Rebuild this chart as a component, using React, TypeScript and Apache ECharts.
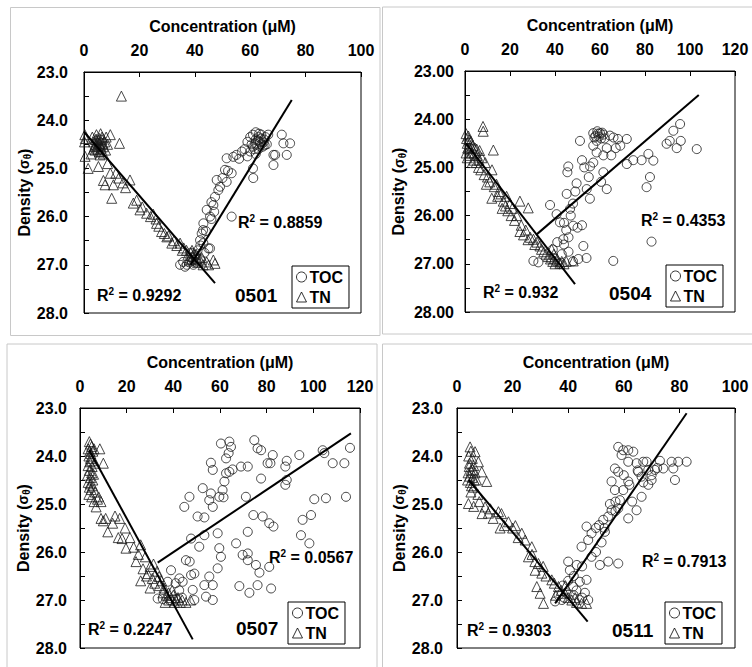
import React, { useEffect, useRef } from 'react';
import * as echarts from 'echarts';

// ---------- DATA (concentration µM, density σθ) ----------
const TN_0501 = [
  [0.3, 24.3], [0.5, 24.38], [0.2, 24.45], [0.4, 24.75], [1.5, 25.0],
  [3, 24.35], [3.5, 24.45], [4, 24.5], [4.5, 24.4], [5, 24.55], [5, 24.6], [5.5, 24.48], [6, 24.52], [6, 24.65],
  [6.5, 24.4], [7, 24.55], [7, 24.7], [4, 24.62], [5.8, 24.72], [6.5, 24.35], [3.5, 24.6], [7.5, 24.45], [8, 24.35],
  [8.5, 24.5], [6, 24.28], [4.5, 24.3], [7.8, 24.62], [5.2, 24.42], [4.8, 24.52], [6.2, 24.58], [5.5, 24.66],
  [4.2, 24.4], [6.8, 24.48], [5.6, 24.38], [3.8, 24.55],
  [13.5, 23.5], [12.8, 24.48], [5.2, 24.96], [2.5, 24.7], [9.5, 24.3],
  [7.6, 25.34], [7, 25.25], [10.6, 25.34], [10, 25.62], [9.5, 25.1], [11.5, 25.1], [16.6, 25.24], [15, 25.4],
  [14, 25.3], [12.5, 25.2], [8.5, 24.9],
  [17.8, 25.72], [19, 25.66], [20.2, 25.86], [21, 25.8], [22.6, 25.93], [24, 26.0], [25, 25.95], [26.2, 26.14],
  [26, 26.05], [27, 26.2], [28, 26.31], [29, 26.35], [29.9, 26.42], [30.5, 26.4], [31.7, 26.55], [32.5, 26.5],
  [33.5, 26.6], [34.7, 26.55], [35.5, 26.7], [36, 26.65], [37, 26.7], [37.5, 26.8], [38.5, 26.75], [39.4, 26.83],
  [40, 26.9], [40.5, 26.78], [41.9, 26.9], [42.5, 26.85], [43, 27.0], [44.3, 26.94], [45, 27.0], [46.7, 26.9],
  [47.3, 26.97], [41, 26.95], [38, 26.9], [39, 26.7], [38.8, 26.88], [39.8, 26.76], [40.8, 26.86],
];
const TOC_0501 = [
  [59, 24.45], [60, 24.35], [60.5, 24.5], [61, 24.3], [61.5, 24.6], [62, 24.25], [62, 24.4], [62.5, 24.5], [63, 24.35],
  [63.5, 24.45], [64, 24.3], [64.5, 24.55], [65, 24.4], [65.5, 24.35], [66, 24.5], [66.5, 24.3], [61, 24.55],
  [63, 24.6], [64, 24.5], [60, 24.65], [58, 24.6], [59, 24.75], [62, 24.7], [57, 24.65],
  [62.8, 24.42], [63.8, 24.38], [64.8, 24.46], [61.8, 24.48], [65.2, 24.52], [63.2, 24.28],
  [71.4, 24.3], [72, 24.48], [74.4, 24.48], [68.4, 24.72], [73.2, 24.72], [68.4, 24.93], [61.1, 25.2], [61, 25.0], [69, 24.72],
  [51.5, 24.79], [53.9, 24.76], [55, 24.72], [50.9, 25.03], [53.3, 25.1], [47.9, 25.24], [49.1, 25.38], [51.5, 25.28],
  [48.5, 25.45], [47.3, 25.59], [46.7, 25.76], [44.3, 25.86], [45.5, 26.0], [46, 26.05], [43.1, 26.14], [53.3, 26.0],
  [41.9, 26.49], [42.5, 26.35], [44, 26.3], [43.1, 26.55], [44.9, 26.66], [45.5, 26.66], [43, 26.28], [46, 25.7],
  [47, 25.9], [50, 25.2], [52, 25.05], [56, 24.8],
  [35.8, 26.94], [37.1, 27.0], [34.7, 27.0], [36.5, 27.04], [38, 26.95], [39, 26.85], [40, 26.8], [41, 26.7],
  [42, 26.6], [40.5, 26.95], [39.5, 27.0], [38.5, 26.75], [42, 26.88], [43.5, 26.75],
];
const TN_FIT_0501 = [[0, 24.24], [47.3, 27.38]];
const TOC_FIT_0501 = [[38.5, 27.0], [75, 23.58]];

const TN_0504 = [
  [0.5, 24.3], [0.7, 24.4], [1, 24.5], [1.5, 24.35], [2, 24.6], [0.5, 24.7], [1, 24.8], [2.5, 24.45], [3, 24.7],
  [3.5, 24.55], [4, 24.85], [4.5, 24.6], [5, 24.9], [5.5, 24.75], [6, 25.0], [6.5, 24.65], [7, 25.05], [7.5, 24.8],
  [1.2, 24.6], [2.2, 24.75], [3.2, 24.9], [1.8, 24.42], [2.8, 24.58], [4.2, 24.7], [5.2, 24.62], [6.2, 24.85],
  [8, 24.15], [8.1, 24.25], [8.5, 25.15], [9, 24.9], [10, 25.2], [12.6, 24.64], [11, 25.3], [11.9, 25.64], [12, 25.05],
  [13, 25.4], [14, 25.35], [15, 25.5], [16, 25.55], [17, 25.7], [18, 25.8], [18.5, 25.6], [19, 25.9], [20, 25.75],
  [20.5, 26.0], [21, 25.85], [22, 26.1], [23, 26.0], [24.4, 25.7], [24.4, 26.33], [25, 26.2], [26, 26.4], [27, 26.3],
  [28.1, 25.84], [28, 26.5], [29, 26.45], [30.4, 26.49], [31, 26.6], [32, 26.55], [33.3, 26.63], [34, 26.7],
  [35, 26.75], [36, 26.8], [37, 26.85], [38, 26.9], [39, 26.95], [40, 27.0], [41, 26.9], [42.2, 26.99], [43, 26.95],
  [44, 27.0], [45, 26.95], [48.1, 26.94], [39.5, 26.8], [38.5, 26.7], [9.5, 25.35], [14.5, 25.6], [16.5, 25.85],
];
const TOC_0504 = [
  [30.4, 26.94], [32.6, 26.97], [37.8, 25.78], [45.2, 25.55], [45.9, 24.98], [45.5, 25.1], [51.1, 24.45], [57, 24.29],
  [58, 24.35], [59, 24.3], [60, 24.29], [61.5, 24.32], [62, 24.4], [58.5, 24.45], [64.4, 24.34], [66, 24.38],
  [57.5, 24.38], [59.5, 24.36], [60.5, 24.4], [61, 24.28], [58.8, 24.25],
  [68, 24.41], [71.9, 24.41], [74.8, 24.85], [78.5, 24.85], [81.5, 24.72], [83.7, 24.86], [82.2, 25.2], [80.7, 25.41],
  [82.9, 26.54], [89.6, 24.51], [91, 24.45], [92.6, 24.24], [95.6, 24.1], [95.9, 24.45], [94.1, 24.6], [103, 24.62],
  [65.9, 26.94], [50.4, 26.9], [54, 26.88], [52.6, 26.63], [48.1, 26.21], [50, 26.25], [42.2, 26.14], [40.7, 25.97],
  [43.7, 26.49], [46.7, 25.86], [48, 25.75], [49.6, 25.33], [49, 25.5], [54.1, 25.45], [55.5, 25.65], [55.6, 24.98],
  [57, 24.9], [58.5, 24.69], [61.5, 24.75], [63, 24.6], [67, 24.6], [63, 25.45], [60.5, 25.3], [71.9, 24.93],
  [61.5, 25.1], [55, 25.2], [53, 25.0], [52, 24.85], [57, 24.55], [65, 24.75], [69, 24.55], [47, 26.0], [45, 26.3],
  [44, 26.6], [46, 26.75], [43, 26.8], [48, 26.95], [40, 26.95], [42, 27.0], [39, 26.7], [41, 26.55], [38, 26.9],
  [52, 26.2], [46, 26.45], [44, 26.15],
];
const TN_FIT_0504 = [[0.4, 24.5], [48.9, 27.42]];
const TOC_FIT_0504 = [[31.6, 26.4], [103.9, 23.5]];

const TN_0507 = [
  [4, 23.7], [4.5, 23.75], [5, 23.8], [3.5, 23.85], [4.2, 23.9], [5.5, 23.9], [6, 23.85], [3.8, 24.0], [4.5, 24.05],
  [5, 24.1], [6.5, 24.15], [3.5, 24.2], [4, 24.3], [5, 24.35], [4.5, 24.45], [3.5, 24.55], [5.5, 24.5], [4, 24.65],
  [4.8, 24.7], [3.8, 24.8], [5, 24.85], [6, 24.95], [7.5, 24.9], [8, 24.85], [9, 24.95], [8.5, 23.85], [10, 24.15],
  [4.6, 23.95], [5.2, 24.22], [4.2, 24.12], [5.8, 24.38], [4.4, 24.58], [5.4, 24.62], [3.2, 24.4],
  [6.9, 25.06], [6.5, 24.75], [9, 25.3], [10, 25.35], [11, 25.3], [14, 25.4], [11.9, 25.58], [16.4, 25.7], [18, 25.72],
  [19.3, 25.5], [21.4, 25.7], [17, 25.3], [15, 25.25], [19.7, 25.92], [23, 25.9], [25, 26.05], [26, 25.85], [28, 26.1],
  [24, 26.2], [27, 26.35], [29, 26.45], [30, 26.3], [26, 26.6], [28.5, 26.5], [31, 26.55], [30, 26.75], [32, 26.65],
  [33.9, 26.51], [34, 26.7], [35, 26.6], [35.5, 26.85], [36, 26.75], [37, 26.9], [38, 26.85], [38, 27.0], [39, 26.95],
  [40, 26.9], [40.5, 27.05], [41, 27.0], [42, 26.95], [43, 27.05], [43.8, 27.0], [45.4, 27.05], [47.4, 27.0],
  [36.5, 27.05], [39.5, 26.8], [33, 26.4], [31.5, 26.25],
];
const TOC_0507 = [
  [60.4, 23.74], [64, 23.7], [64.7, 23.81], [63.7, 23.94], [74.7, 23.67], [76.1, 23.84], [77.6, 23.88], [82.6, 23.98],
  [80.4, 24.15], [81.6, 24.15], [88.6, 24.1], [88, 24.22], [94, 23.98], [104, 23.88], [104.7, 23.94], [108.3, 24.15],
  [113.3, 24.15], [115.7, 23.83], [56.1, 24.14], [56.9, 24.29], [62.6, 24.05], [62.6, 24.36], [64, 24.33],
  [65.4, 24.28], [69, 24.22], [71.9, 24.22], [77.6, 24.47], [88, 24.6], [88.6, 24.5], [61.9, 24.53], [61.1, 24.71],
  [52.6, 24.67], [56.1, 24.78], [55.4, 24.92], [59.7, 24.85], [61.5, 24.86], [56.9, 25.06], [46.9, 24.85],
  [44.7, 25.06], [50.4, 25.26], [53.3, 25.28], [71.1, 24.85], [74.3, 25.23], [78.3, 25.26], [81.1, 25.4],
  [82.9, 25.47], [100.4, 24.9], [105.4, 24.88], [114, 24.85], [99, 25.23], [95.4, 25.33], [94.7, 25.65],
  [98.3, 25.82], [71.9, 25.58], [66.9, 25.82], [59, 25.61], [53.3, 25.65], [47.6, 25.72], [51.1, 25.89],
  [59.7, 25.92], [60.4, 26.1], [59, 26.34], [45.4, 26.17], [47, 26.2], [69.7, 26.06], [71.9, 26.03], [71.9, 26.17],
  [75.4, 26.27], [76.9, 26.43], [81.1, 26.31], [39, 26.38], [42.6, 26.55], [44, 26.62], [47.6, 26.48], [49, 26.45],
  [55.4, 26.51], [53.3, 26.69], [56.9, 26.69], [48.3, 26.79], [54, 26.93], [56.9, 27.0], [68.3, 26.71],
  [72.6, 26.85], [76.1, 26.69], [81.9, 26.76], [33.3, 26.97], [35.5, 26.98], [38.3, 27.0], [41, 26.98],
  [43.7, 26.95], [37.6, 26.62], [41, 26.65], [42.5, 26.8], [49, 27.0],
];
const TN_FIT_0507 = [[4, 23.875], [48.3, 27.82]];
const TOC_FIT_0507 = [[33.3, 26.22], [116.1, 23.53]];

const TN_0511 = [
  [4.7, 23.81], [5, 23.9], [4.2, 24.0], [6.5, 23.91], [5.5, 24.05], [4.5, 24.15], [6, 24.2], [7.7, 24.12], [5, 24.3],
  [4, 24.35], [6.5, 24.35], [5.5, 24.45], [4.8, 24.55], [7, 24.5], [8.9, 24.33], [6, 24.65], [10.7, 24.53], [5, 24.75],
  [4.4, 24.22], [5.6, 24.28], [4.6, 24.42], [6.2, 24.5], [5.2, 24.62], [3.8, 24.5],
  [7.5, 24.8], [4.1, 24.99], [6, 25.05], [8, 24.95], [10.1, 25.06], [11.3, 25.19], [9, 25.2], [12, 25.1],
  [14.9, 25.16], [13, 25.3], [16, 25.2], [18.5, 25.37], [17, 25.45], [15.5, 25.5], [20, 25.5], [21, 25.45],
  [23.3, 25.61], [22, 25.7], [24.5, 25.75], [26.9, 25.89], [25.7, 26.1], [27, 26.05], [28, 26.2], [29.3, 26.24],
  [28.1, 26.38], [30.5, 26.44], [31, 26.3], [32, 26.5], [28.7, 26.72], [29.9, 26.86], [31.1, 27.07], [34.1, 26.58],
  [35, 26.65], [36.5, 26.72], [37.5, 26.8], [38.8, 26.86], [40, 26.95], [41.3, 27.0], [42.5, 26.95], [44.8, 27.07],
  [46.6, 27.07], [43, 27.05], [39, 26.7], [35.5, 26.9],
];
const TOC_0511 = [
  [35.3, 27.03], [37.7, 27.0], [39.4, 26.86], [41.8, 26.72], [44.2, 26.62], [46.6, 26.58], [47.2, 27.0], [40.6, 26.38],
  [43.1, 26.27], [48.4, 26.1], [51.4, 26.27], [54.4, 26.2], [58, 26.24], [44.8, 25.89], [47.2, 25.75], [48.4, 25.61],
  [46.6, 25.47], [51.1, 25.44], [53.2, 25.58], [52.6, 25.33], [54.4, 25.26], [55.6, 25.13], [58, 25.09],
  [58.6, 24.92], [56.8, 24.71], [59.8, 24.71], [61.6, 25.3], [64.6, 25.13], [66.4, 24.85], [55.6, 24.53], [58, 24.33],
  [61.6, 24.53], [56.8, 24.26], [58, 23.81], [59.8, 23.88], [61.6, 23.88], [63.4, 23.91], [59.2, 23.98],
  [61.6, 24.12], [64.6, 24.15], [67, 24.12], [68.2, 24.12], [65.2, 24.33], [66.4, 24.43], [68.8, 24.29],
  [71.2, 24.29], [70, 24.5], [68.8, 24.6], [74.2, 24.26], [77.2, 24.12], [79.6, 24.12], [82.6, 24.12], [77.8, 24.26],
  [78.4, 24.5], [38, 26.7], [40, 26.6], [42, 26.9], [43, 26.8], [45, 26.95], [44, 27.0], [46, 26.85], [42, 26.5],
  [40, 26.2], [38.5, 26.95], [36.5, 26.9], [50, 26.0], [52, 25.8], [53, 25.5], [55, 25.0], [57, 24.95], [60, 24.4],
  [62, 24.6], [63, 24.95], [65, 24.3], [67, 24.55], [70, 24.4], [72, 24.25], [73, 24.1], [57, 25.15], [50, 25.5],
  [45, 26.3],
];
const TN_FIT_0511 = [[4.2, 24.5], [47, 27.45]];
const TOC_FIT_0511 = [[35.3, 27.07], [82.6, 23.11]];

const STATION_LABELS = ['0501', '0504', '0507', '0511'];
const R2_TN = ['0.9292', '0.932', '0.2247', '0.9303'];
const R2_TOC = ['0.8859', '0.4353', '0.0567', '0.7913'];
const X_MAX = [100, 120, 120, 100];
const Y_DECIMALS = [1, 2, 1, 1];

// ---------- LAYOUT ----------
const FONT = 'Arial, "Liberation Sans", Helvetica, sans-serif';
const LAYOUT = [
  { grid: { left: 84, top: 72, width: 277, height: 241 }, yNameGap: 47, yLabelMargin: 16,
    legend: [292, 266], tnR2: [97, 295], tocR2: [238, 222], station: [235, 295], frame: [10.5, 7.5, 369.5, 328] },
  { grid: { left: 465, top: 71, width: 270, height: 241 }, yNameGap: 58, yLabelMargin: 11,
    legend: [666, 265], tnR2: [483, 292], tocR2: [641, 220], station: [609, 293], frame: [382.5, 7, 380, 327] },
  { grid: { left: 80, top: 408, width: 280, height: 240 }, yNameGap: 45, yLabelMargin: 13,
    legend: [288, 602], tnR2: [88, 629], tocR2: [269, 557], station: [236, 628], frame: [7, 344, 370, 340] },
  { grid: { left: 457, top: 408, width: 278, height: 240 }, yNameGap: 49, yLabelMargin: 14,
    legend: [665, 602], tnR2: [467, 630], tocR2: [642, 561], station: [612, 630], frame: [382.5, 344, 380, 340] },
];

const PANELS = [
  { tn: TN_0501, toc: TOC_0501, tnFit: TN_FIT_0501, tocFit: TOC_FIT_0501 },
  { tn: TN_0504, toc: TOC_0504, tnFit: TN_FIT_0504, tocFit: TOC_FIT_0504 },
  { tn: TN_0507, toc: TOC_0507, tnFit: TN_FIT_0507, tocFit: TOC_FIT_0507 },
  { tn: TN_0511, toc: TOC_0511, tnFit: TN_FIT_0511, tocFit: TOC_FIT_0511 },
];

const boldText = { fontFamily: FONT, fontWeight: 'bold' as const, color: '#000' };

function buildOption() {
  const grids: any[] = [];
  const xAxes: any[] = [];
  const yAxes: any[] = [];
  const series: any[] = [];
  const legends: any[] = [];
  const graphics: any[] = [];

  PANELS.forEach((p, i) => {
    const L = LAYOUT[i];
    grids.push({ ...L.grid, show: true, borderColor: '#000', borderWidth: 1, backgroundColor: 'transparent' });
    xAxes.push({
      type: 'value', gridIndex: i, position: 'top', min: 0, max: X_MAX[i], interval: 20,
      name: 'Concentration (\u03bcM)', nameLocation: 'middle', nameGap: 38,
      nameTextStyle: { ...boldText, fontSize: 16 },
      axisLine: { show: true, lineStyle: { color: '#000', width: 1 } },
      axisTick: { show: true, inside: true, length: 5, lineStyle: { color: '#000' } },
      axisLabel: { ...boldText, fontSize: 16, margin: 14 },
      splitLine: { show: false },
    });
    yAxes.push({
      type: 'value', gridIndex: i, inverse: true, min: 23, max: 28, interval: 0.5,
      name: 'Density ({s|\u03c3}{t|\u03b8})', nameLocation: 'middle', nameGap: L.yNameGap,
      nameTextStyle: {
        ...boldText, fontSize: 16,
        rich: {
          s: { ...boldText, fontSize: 14 },
          t: { ...boldText, fontSize: 10, verticalAlign: 'bottom', padding: [7, 0, 0, 0] },
        },
      },
      axisLine: { show: true, lineStyle: { color: '#000', width: 1 } },
      axisTick: { show: true, inside: true, length: 5, lineStyle: { color: '#000' } },
      axisLabel: {
        ...boldText, fontSize: 16, margin: L.yLabelMargin,
        formatter: (v: number) => (Math.abs(v - Math.round(v)) < 1e-6 ? v.toFixed(Y_DECIMALS[i]) : ''),
      },
      splitLine: { show: false },
    });

    const markerStyle = { color: 'rgba(0,0,0,0)', borderColor: '#1a1a1a', borderWidth: 1 };
    series.push({
      type: 'scatter', name: 'TOC', xAxisIndex: i, yAxisIndex: i, data: p.toc,
      symbol: 'circle', symbolSize: 9, itemStyle: markerStyle, z: 2,
    });
    series.push({
      type: 'scatter', name: 'TN', xAxisIndex: i, yAxisIndex: i, data: p.tn,
      symbol: 'triangle', symbolSize: 10, itemStyle: markerStyle, z: 2,
    });
    series.push({
      type: 'line', name: 'TN fit', xAxisIndex: i, yAxisIndex: i, data: p.tnFit,
      symbol: 'none', lineStyle: { color: '#000', width: 2 }, z: 3,
    });
    series.push({
      type: 'line', name: 'TOC fit', xAxisIndex: i, yAxisIndex: i, data: p.tocFit,
      symbol: 'none', lineStyle: { color: '#000', width: 2 }, z: 3,
    });

    legends.push({
      data: [{ name: 'TOC', icon: 'circle' }, { name: 'TN', icon: 'triangle' }],
      orient: 'vertical', left: L.legend[0], top: L.legend[1],
      borderColor: '#000', borderWidth: 1, borderRadius: 0, backgroundColor: '#fff',
      padding: [3, 6, 3, 4], itemGap: 4, itemWidth: 10, itemHeight: 10,
      selectedMode: false,
      itemStyle: { color: 'rgba(0,0,0,0)', borderColor: '#000', borderWidth: 1 },
      textStyle: { ...boldText, fontSize: 16, padding: [0, 0, 0, -2] },
    });

    const sup = { ...boldText, fontSize: 10, verticalAlign: 'top', padding: [0, 0, 7, 0] };
    graphics.push({
      type: 'rect', silent: true, z: -10,
      shape: { x: L.frame[0], y: L.frame[1], width: L.frame[2], height: L.frame[3] },
      style: { fill: 'none', stroke: '#c8c8c8', lineWidth: 1 },
    });
    graphics.push({
      type: 'text', x: L.tnR2[0], y: L.tnR2[1], z: 10,
      style: { text: 'R{sup|2} = ' + R2_TN[i], ...boldText, fill: '#000', fontSize: 16, verticalAlign: 'middle', rich: { sup } },
    });
    graphics.push({
      type: 'text', x: L.tocR2[0], y: L.tocR2[1], z: 10,
      style: { text: 'R{sup|2} = ' + R2_TOC[i], ...boldText, fill: '#000', fontSize: 16, verticalAlign: 'middle', rich: { sup } },
    });
    graphics.push({
      type: 'text', x: L.station[0], y: L.station[1], z: 10,
      style: { text: STATION_LABELS[i], fontFamily: FONT, fontWeight: 900, fill: '#000', fontSize: 19, verticalAlign: 'middle' },
    });
  });

  return {
    animation: false,
    backgroundColor: '#fff',
    grid: grids,
    xAxis: xAxes,
    yAxis: yAxes,
    legend: legends,
    series,
    graphic: graphics,
  };
}

export default function App() {
  const ref = useRef<HTMLDivElement>(null);
  useEffect(() => {
    if (!ref.current) return;
    const chart = echarts.init(ref.current, null, { renderer: 'svg' });
    chart.setOption(buildOption() as any);
    return () => chart.dispose();
  }, []);
  return (
    <div
      ref={ref}
      style={{ position: 'fixed', left: 0, top: 0, width: 752, height: 667, background: '#fff' }}
    />
  );
}
